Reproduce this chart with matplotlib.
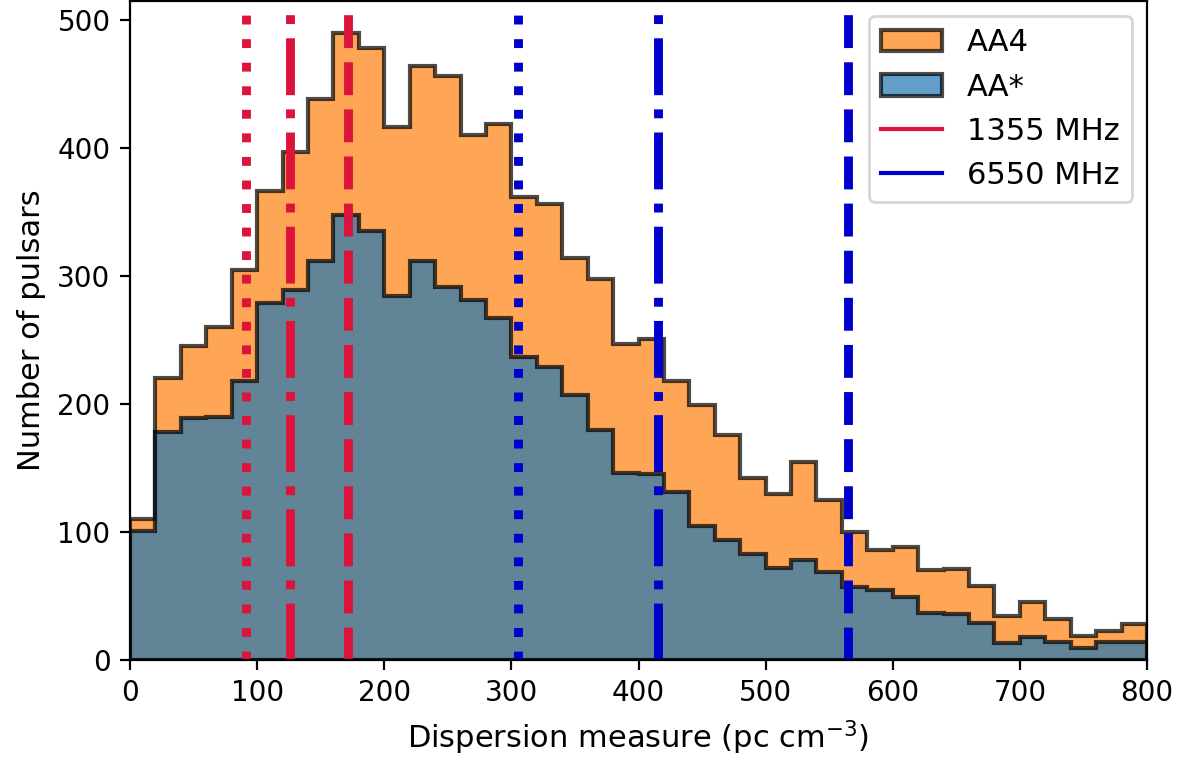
import numpy as np
import matplotlib
matplotlib.use("Agg")
import matplotlib.pyplot as plt
from matplotlib.lines import Line2D
from matplotlib.patches import Patch

bin_edges = np.arange(0, 801, 20)

aa4_counts = [110, 220, 245, 260, 305, 366, 397, 438, 490, 478,
              416, 464, 456, 410, 419, 362, 356, 314, 298, 247,
              251, 218, 199, 176, 142, 130, 155, 125, 100, 86,
              88, 70, 71, 58, 34, 45, 32, 19, 23, 28]

aastar_counts = [101, 178, 189, 190, 218, 279, 289, 312, 348, 335,
                 284, 312, 291, 281, 267, 237, 229, 207, 180, 146,
                 145, 131, 105, 94, 83, 72, 78, 69, 57, 55,
                 49, 37, 36, 29, 13, 18, 14, 9, 14, 14]

dm_1355 = [91.5, 125.5, 171.3]
dm_6550 = [305.0, 415.2, 564.8]
line_styles = [":", "-.", "--"]

fig = plt.figure(figsize=(1189 / 200, 762 / 200), dpi=200)
ax = fig.add_axes([130 / 1189, 1 - 660 / 762, (1147 - 130) / 1189, 660 / 762 - 0.001])

centers = bin_edges[:-1] + 10
ax.hist(centers, bins=bin_edges, weights=aa4_counts, histtype="stepfilled",
        color="C1", alpha=0.7, edgecolor="k", linewidth=1.5)
ax.hist(centers, bins=bin_edges, weights=aastar_counts, histtype="stepfilled",
        color="C0", alpha=0.7, edgecolor="k", linewidth=1.5)

for x, ls in zip(dm_1355, line_styles):
    ax.axvline(x, color="crimson", ls=ls, lw=3.2)
for x, ls in zip(dm_6550, line_styles):
    ax.axvline(x, color="mediumblue", ls=ls, lw=3.2)

ax.set_xlim(0, 800)
ax.set_ylim(0, 515)
ax.set_yticks([0, 100, 200, 300, 400, 500])
ax.tick_params(labelsize=10)
ax.set_xlabel(r"Dispersion measure (pc cm$^{-3}$)", fontsize=11)
ax.set_ylabel("Number of pulsars", fontsize=11)

handles = [
    Patch(facecolor="C1", edgecolor="k", alpha=0.7, linewidth=1.5, label="AA4"),
    Patch(facecolor="C0", edgecolor="k", alpha=0.7, linewidth=1.5, label="AA*"),
    Line2D([0], [0], color="crimson", lw=1.5, label="1355 MHz"),
    Line2D([0], [0], color="mediumblue", lw=1.5, label="6550 MHz"),
]
ax.legend(handles=handles, loc="upper right", fontsize=11)

fig.savefig("out.png", dpi=200)
